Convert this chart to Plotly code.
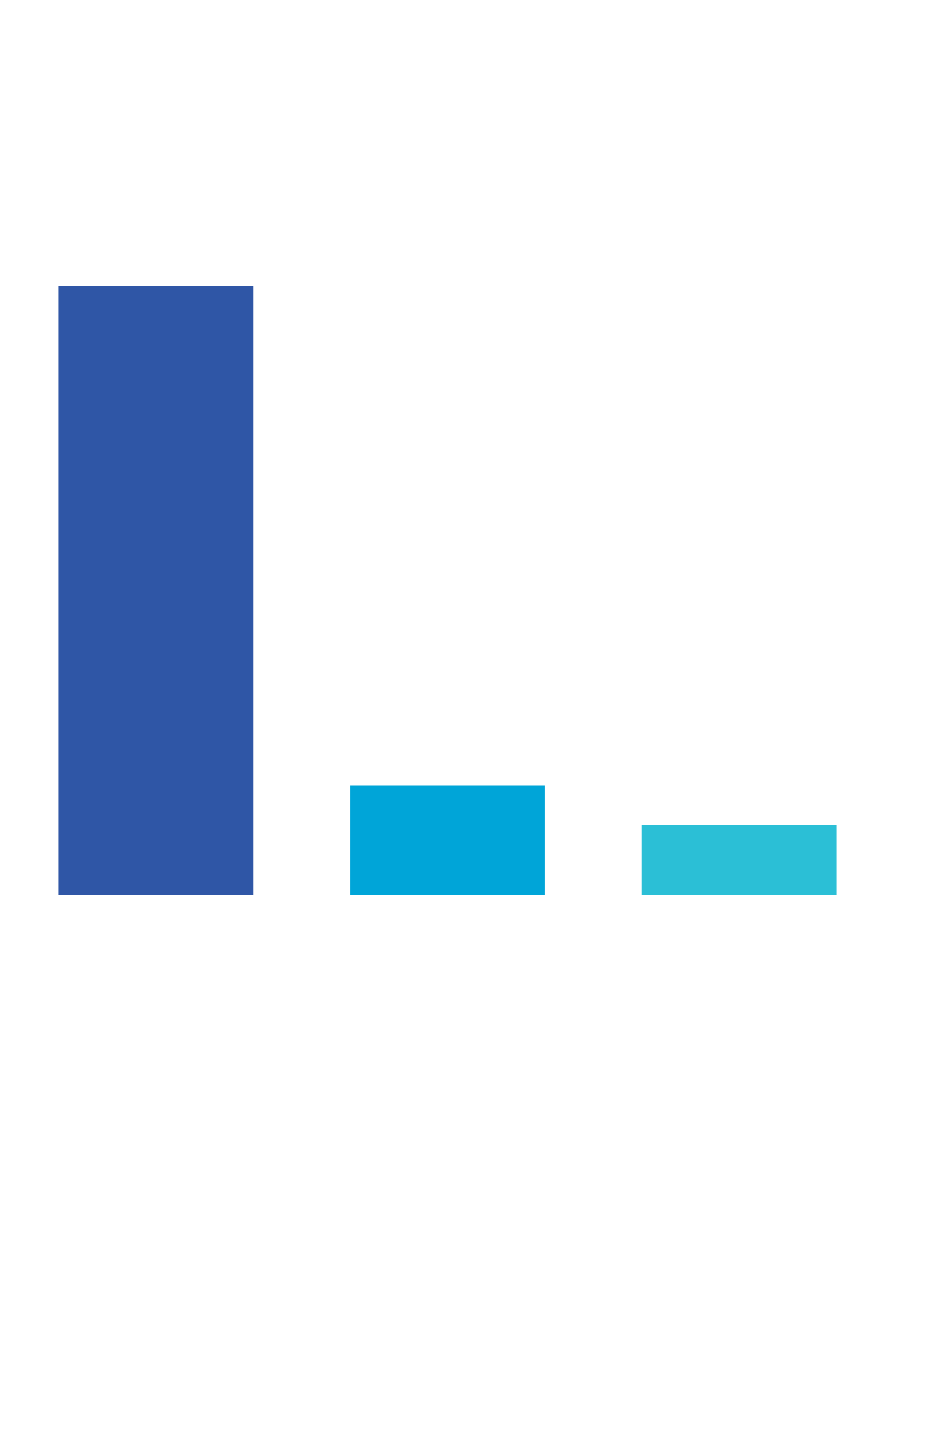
import plotly.graph_objects as go

categories = ['A', 'B', 'C']
values = [100, 18, 11.5]
colors = ['#2F56A6', '#00A5D8', '#2BBFD6']

fig = go.Figure()
fig.add_trace(go.Bar(
    x=categories, y=values,
    marker=dict(color=colors, line=dict(width=0)),
    width=0.668, hoverinfo='skip'))

# page body adds an 8px margin, so the figure is shrunk by that amount
fig.update_layout(
    width=917, height=1447,
    paper_bgcolor='#FFFFFF', plot_bgcolor='#FFFFFF',
    margin=dict(l=1.5, r=39.5, t=278, b=560),
    showlegend=False)
fig.update_xaxes(visible=False, range=[-0.5, 2.5])
fig.update_yaxes(visible=False, range=[0, 100])

fig.write_html("out.html", config=dict(displayModeBar=False))
